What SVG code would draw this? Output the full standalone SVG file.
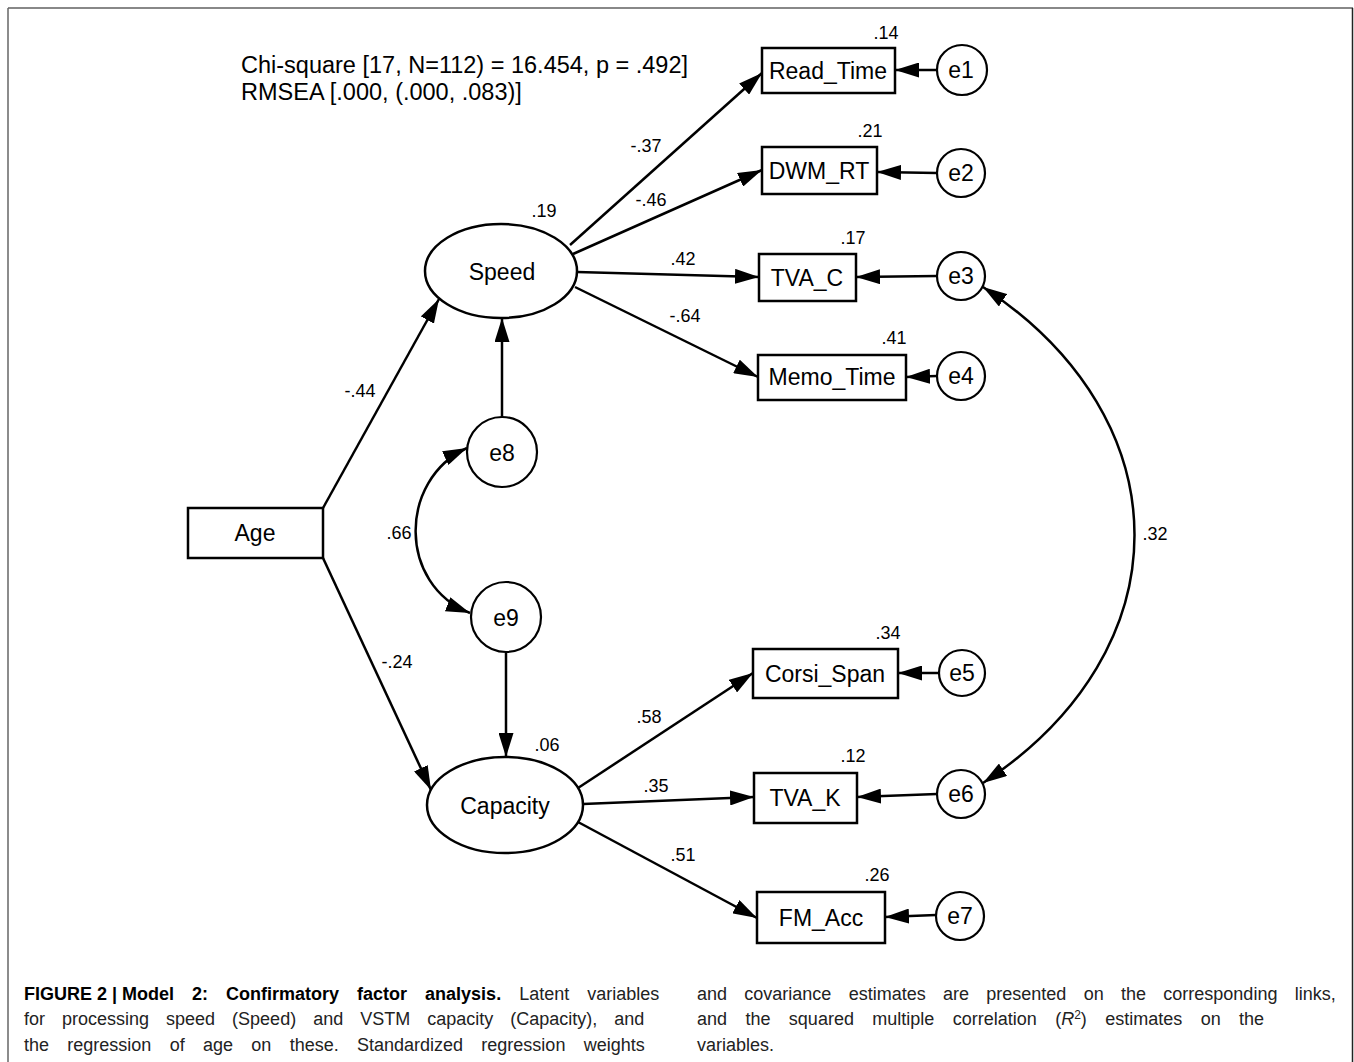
<svg xmlns="http://www.w3.org/2000/svg" width="1354" height="1062" viewBox="0 0 1354 1062">
<style>
  .box { fill: #fff; stroke: #000; stroke-width: 2.5; }
  .lat { fill: #fff; stroke: #000; stroke-width: 2.5; }
  .err { fill: #fff; stroke: #000; stroke-width: 2.2; }
  .nl { font-family: "Liberation Sans", Arial, sans-serif; font-size: 23px; fill: #000; text-anchor: middle; }
  .el { font-family: "Liberation Sans", Arial, sans-serif; font-size: 23px; fill: #000; text-anchor: middle; }
  .lab { font-family: "Liberation Sans", Arial, sans-serif; font-size: 18px; fill: #000; text-anchor: middle; }
  .fit { font-family: "Liberation Sans", Arial, sans-serif; font-size: 23.5px; fill: #000; }
  .cap { font-family: "Liberation Sans", Arial, sans-serif; font-size: 18px; fill: #222; }
  .capb { font-weight: bold; fill: #000; }
  .edge { fill: none; stroke: #000; stroke-width: 2.5; marker-end: url(#arr); }
  .cov { fill: none; stroke: #000; stroke-width: 2.5; marker-end: url(#arr); marker-start: url(#arr); }
</style>
<defs>
  <marker id="arr" viewBox="0 0 24 15" refX="24" refY="7.5" markerWidth="24" markerHeight="15" markerUnits="userSpaceOnUse" orient="auto-start-reverse">
    <path d="M0,0 L24,7.5 L0,15 z" fill="#000"/>
  </marker>
</defs>

<!-- frame -->
<g id="frame">
  <line x1="8" y1="8" x2="1353" y2="8" stroke="#888" stroke-width="2"/>
  <line x1="8" y1="8" x2="8" y2="1062" stroke="#666" stroke-width="1.5"/>
  <line x1="1352.5" y1="8" x2="1352.5" y2="1062" stroke="#222" stroke-width="1.5"/>
</g>

<!-- fit statistics -->
<g id="fit">
  <text class="fit" x="241" y="73">Chi-square [17, N=112) = 16.454, p = .492]</text>
  <text class="fit" x="241" y="100">RMSEA [.000, (.000, .083)]</text>
</g>

<!-- connectors -->
<g id="connectors">
  <path class="edge" d="M323,508 L439,299"/>
  <path class="edge" d="M323,558 L431,790"/>
  <path class="edge" d="M502,417 L502,318"/>
  <path class="edge" d="M506,653 L506,757"/>
  <path class="edge" d="M570,245 L762,73"/>
  <path class="edge" d="M573,254 L762,170"/>
  <path class="edge" d="M577,272 L759,277"/>
  <path class="edge" d="M575,287 L758,377"/>
  <path class="edge" d="M578,788 L753,673"/>
  <path class="edge" d="M583,804 L754,797"/>
  <path class="edge" d="M578,822 L757,918"/>
  <path class="edge" d="M936,70 L895,70"/>
  <path class="edge" d="M937,173 L877,172"/>
  <path class="edge" d="M937,276 L856,277"/>
  <path class="edge" d="M937,376 L906,377"/>
  <path class="edge" d="M939,673 L898,673"/>
  <path class="edge" d="M937,794 L857,797"/>
  <path class="edge" d="M936,915 L885,917"/>
  <path class="cov" d="M467,448 C398,480 398,585 470,613"/>
  <path class="cov" d="M983,287 C1185,420 1185,650 983,783"/>
</g>

<!-- path labels -->
<g id="labels">
  <text class="lab" x="646" y="152">-.37</text>
  <text class="lab" x="651" y="206">-.46</text>
  <text class="lab" x="683" y="265">.42</text>
  <text class="lab" x="685" y="322">-.64</text>
  <text class="lab" x="360" y="397">-.44</text>
  <text class="lab" x="397" y="668">-.24</text>
  <text class="lab" x="399" y="539">.66</text>
  <text class="lab" x="649" y="723">.58</text>
  <text class="lab" x="656" y="792">.35</text>
  <text class="lab" x="683" y="861">.51</text>
  <text class="lab" x="1155" y="540">.32</text>
  <text class="lab" x="886" y="39">.14</text>
  <text class="lab" x="870" y="137">.21</text>
  <text class="lab" x="853" y="244">.17</text>
  <text class="lab" x="894" y="344">.41</text>
  <text class="lab" x="888" y="639">.34</text>
  <text class="lab" x="853" y="762">.12</text>
  <text class="lab" x="877" y="881">.26</text>
  <text class="lab" x="544" y="217">.19</text>
  <text class="lab" x="547" y="751">.06</text>
</g>

<!-- nodes -->
<g id="node-age"><rect class="box" x="188" y="508" width="135" height="50"/><text class="nl" x="255" y="541">Age</text></g>
<g id="node-speed"><ellipse class="lat" cx="501" cy="271" rx="76" ry="47"/><text class="nl" x="502" y="280">Speed</text></g>
<g id="node-capacity"><ellipse class="lat" cx="505" cy="805" rx="78" ry="48"/><text class="nl" x="505" y="814">Capacity</text></g>
<g id="node-e8"><circle class="err" cx="502" cy="452" r="35"/><text class="el" x="502" y="461">e8</text></g>
<g id="node-e9"><circle class="err" cx="506" cy="617" r="35"/><text class="el" x="506" y="626">e9</text></g>

<g id="node-read-time"><rect class="box" x="762" y="48" width="133" height="45"/><text class="nl" x="828" y="79">Read_Time</text></g>
<g id="node-dwm-rt"><rect class="box" x="762" y="147" width="115" height="47"/><text class="nl" x="819" y="179">DWM_RT</text></g>
<g id="node-tva-c"><rect class="box" x="759" y="254" width="97" height="47"/><text class="nl" x="807" y="286">TVA_C</text></g>
<g id="node-memo-time"><rect class="box" x="758" y="355" width="148" height="45"/><text class="nl" x="832" y="385">Memo_Time</text></g>
<g id="node-corsi-span"><rect class="box" x="753" y="649" width="145" height="49"/><text class="nl" x="825" y="682">Corsi_Span</text></g>
<g id="node-tva-k"><rect class="box" x="754" y="773" width="103" height="50"/><text class="nl" x="805" y="806">TVA_K</text></g>
<g id="node-fm-acc"><rect class="box" x="757" y="892" width="128" height="51"/><text class="nl" x="821" y="926">FM_Acc</text></g>

<g id="node-e1"><circle class="err" cx="962" cy="70" r="25"/><text class="el" x="961" y="78">e1</text></g>
<g id="node-e2"><circle class="err" cx="961" cy="173" r="24"/><text class="el" x="961" y="181">e2</text></g>
<g id="node-e3"><circle class="err" cx="961" cy="276" r="24"/><text class="el" x="961" y="284">e3</text></g>
<g id="node-e4"><circle class="err" cx="961" cy="376" r="24"/><text class="el" x="961" y="384">e4</text></g>
<g id="node-e5"><circle class="err" cx="962" cy="673" r="23"/><text class="el" x="962" y="681">e5</text></g>
<g id="node-e6"><circle class="err" cx="961" cy="794" r="24"/><text class="el" x="961" y="802">e6</text></g>
<g id="node-e7"><circle class="err" cx="960" cy="916" r="24"/><text class="el" x="960" y="924">e7</text></g>

<!-- caption -->
<g id="caption">
  <text class="cap" x="24" y="1000"><tspan class="capb">FIGURE 2 | Model</tspan><tspan class="capb" word-spacing="13"> 2: Confirmatory factor analysis.</tspan><tspan word-spacing="13"> Latent variables</tspan></text>
  <text class="cap" x="24" y="1025" word-spacing="12">for processing speed (Speed) and VSTM capacity (Capacity), and</text>
  <text class="cap" x="24" y="1051" word-spacing="13.3">the regression of age on these. Standardized regression weights</text>
  <text class="cap" x="697" y="1000" word-spacing="12.3">and covariance estimates are presented on the corresponding links,</text>
  <text class="cap" x="697" y="1025" word-spacing="13.4">and the squared multiple correlation (<tspan font-style="italic">R</tspan><tspan font-size="12" dy="-6">2</tspan><tspan dy="6">)</tspan> estimates on the</text>
  <text class="cap" x="697" y="1051">variables.</text>
</g>
</svg>
